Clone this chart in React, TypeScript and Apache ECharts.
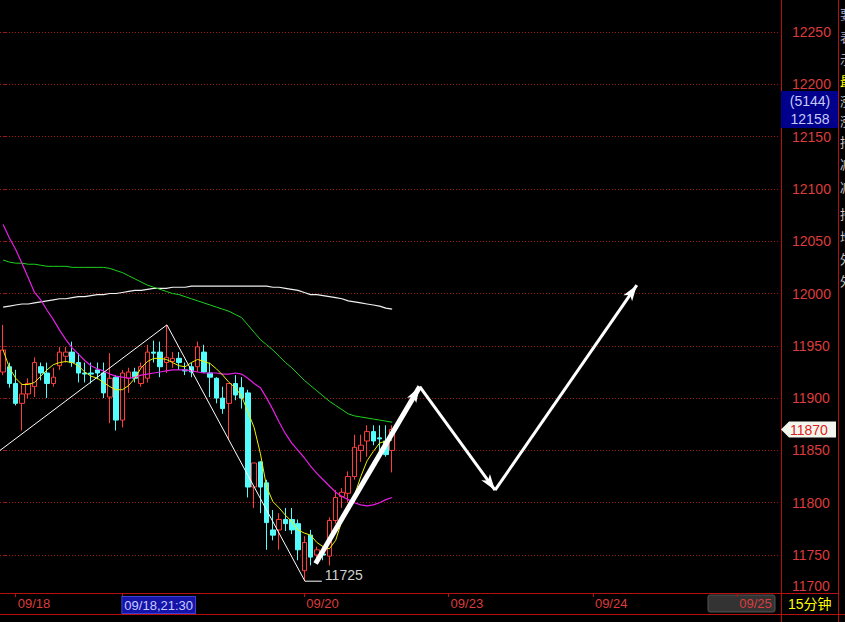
import React, { useEffect, useRef } from 'react';
import * as echarts from 'echarts';

const W = 845;
const H = 622;
const SLOTS = 124;

// [open, close, low, high]
const candles: number[][] = [
  [11925, 11946, 11922, 11970],
  [11930, 11914, 11910, 11934],
  [11914, 11895, 11893, 11927],
  [11895, 11904, 11869, 11914],
  [11904, 11914, 11900, 11919],
  [11911, 11934, 11901, 11939],
  [11930, 11924, 11917, 11934],
  [11924, 11914, 11900, 11934],
  [11914, 11920, 11911, 11929],
  [11931, 11944, 11927, 11949],
  [11940, 11944, 11934, 11949],
  [11944, 11934, 11930, 11954],
  [11934, 11924, 11915, 11943],
  [11924, 11923, 11915, 11934],
  [11924, 11923, 11914, 11934],
  [11927, 11924, 11918, 11934],
  [11924, 11905, 11900, 11934],
  [11901, 11919, 11876, 11943],
  [11920, 11879, 11869, 11922],
  [11879, 11924, 11872, 11927],
  [11919, 11925, 11905, 11929],
  [11925, 11919, 11915, 11929],
  [11914, 11930, 11911, 11934],
  [11919, 11944, 11915, 11951],
  [11944, 11943, 11934, 11955],
  [11944, 11930, 11920, 11954],
  [11934, 11939, 11924, 11970],
  [11935, 11938, 11929, 11944],
  [11938, 11934, 11927, 11944],
  [11927, 11926, 11922, 11934],
  [11930, 11925, 11920, 11934],
  [11930, 11949, 11925, 11954],
  [11944, 11925, 11924, 11951],
  [11924, 11920, 11901, 11934],
  [11919, 11900, 11895, 11920],
  [11900, 11890, 11885, 11911],
  [11895, 11914, 11860, 11914],
  [11914, 11903, 11898, 11922],
  [11910, 11900, 11890, 11920],
  [11905, 11815, 11805, 11908],
  [11815, 11838, 11795, 11838],
  [11839, 11815, 11790, 11840],
  [11819, 11781, 11755, 11822],
  [11774, 11769, 11764, 11793],
  [11774, 11784, 11755, 11790],
  [11784, 11780, 11773, 11795],
  [11784, 11774, 11770, 11795],
  [11780, 11755, 11745, 11784],
  [11735, 11762, 11725, 11768],
  [11769, 11748, 11740, 11774],
  [11750, 11755, 11745, 11758],
  [11751, 11750, 11745, 11754],
  [11749, 11783, 11740, 11786],
  [11783, 11805, 11780, 11812],
  [11806, 11810, 11795, 11814],
  [11809, 11825, 11800, 11830],
  [11825, 11853, 11822, 11865],
  [11850, 11855, 11839, 11865],
  [11859, 11868, 11844, 11874],
  [11868, 11859, 11855, 11874],
  [11862, 11861, 11850, 11874],
  [11859, 11846, 11844, 11874],
  [11850, 11870, 11829, 11874],
];

const maYellow = [
  11946, 11929, 11919, 11913, 11913, 11915, 11921, 11927, 11932, 11934,
  11935, 11934, 11931, 11925, 11921, 11919, 11915, 11911, 11908, 11908,
  11912, 11919, 11929, 11935, 11938, 11938, 11937, 11934, 11931, 11930,
  11934, 11937, 11935, 11933, 11928, 11922, 11915, 11910, 11902, 11887,
  11872, 11847, 11815, 11801, 11795, 11788, 11782, 11774, 11771, 11769,
  11762, 11758, 11756, 11764, 11783, 11798, 11807, 11825, 11840, 11849,
  11857, 11859, 11860,
];

const maMagenta = [
  12066, 12053, 12042, 12029, 12015, 12001, 11994, 11984, 11975, 11965,
  11956, 11948, 11942, 11936, 11931, 11928, 11926, 11923, 11921, 11920,
  11919, 11920, 11922, 11923, 11924, 11925, 11926, 11927, 11927, 11927,
  11926, 11925, 11924, 11924, 11924, 11923, 11923, 11924, 11923, 11919,
  11914, 11910, 11900, 11889, 11877, 11866, 11857, 11850, 11843, 11835,
  11828, 11822, 11816, 11810, 11806, 11803, 11800, 11798, 11797, 11798,
  11800, 11803, 11805,
];

const maGreen = [
  12032, 12030, 12029, 12029, 12028, 12028, 12027, 12026, 12026, 12026,
  12026, 12025, 12025, 12025, 12025, 12025, 12025, 12024, 12022, 12020,
  12017, 12014, 12011, 12008, 12006, 12004, 12002, 12000, 11999, 11997,
  11995, 11993, 11991, 11989, 11987, 11985, 11983, 11980, 11977, 11970,
  11963, 11956, 11951, 11946, 11940, 11934, 11929, 11923, 11917, 11912,
  11907, 11902, 11897, 11893, 11889, 11885, 11883, 11882, 11881, 11880,
  11879, 11878, 11877,
];

const maWhite = [
  11987, 11988, 11989, 11990, 11990, 11991, 11992, 11993, 11994, 11995,
  11995, 11996, 11997, 11997, 11998, 11999, 11999, 12000, 12000, 12001,
  12002, 12003, 12003, 12004, 12005, 12005, 12005, 12006, 12006, 12006,
  12007, 12007, 12007, 12007, 12007, 12007, 12007, 12007, 12007, 12007,
  12007, 12007, 12007, 12006, 12006, 12005, 12004, 12003, 12001, 11999,
  11999, 11998, 11997, 11996, 11995, 11993, 11992, 11991, 11990, 11989,
  11988, 11986, 11985,
];

const yTickValues = [11750, 11800, 11850, 11900, 11950, 12000, 12050, 12100, 12150, 12200, 12250];
const yBottomLabel = '11700';
const yMin = 11713.7;
const yMax = 12280.6;

const xTickIndex = [2, 19, 48, 71, 94, 117];
const xTickLabels = ['09/18', '09/18,21:30', '09/20', '09/23', '09/24', '09/25'];

// hand-drawn trend line (bar index, price)
const trendLine = [[-0.5, 11850], [26.1, 11970], [48.1, 11725], [50.8, 11725]];
// forecast arrows (bar index, price)
const forecastPath = [[49.8, 11742], [66.4, 11911], [78.4, 11812], [101, 12008]];

const lastPrice = 11870;
const crossVol = '(5144)';
const crossPrice = '12158';
const periodLabel = '15分钟';
const sideChars = ['要', '表', '示', '最', '涨', '涨', '持', '减', '减', '持', '增', '外', '外'];

export default function App() {
  const ref = useRef<HTMLDivElement>(null);

  useEffect(() => {
    const el = ref.current;
    if (!el) return;
    const chart = echarts.init(el, null, { renderer: 'svg', width: W, height: H });
    const RED = '#DC3C3C';
    const GRID_RED = '#A01818';
    const LINE_RED = '#B81010';
    const FONT = 'Arial, "Liberation Sans", "Noto Sans CJK SC", sans-serif';
    const cats = Array.from({ length: SLOTS }, (_, i) => String(i));
    const plotRight = 778;
    const plotBottom = 593;

    const segs = forecastPath.slice(1).map((p, k) => [
      { coord: forecastPath[k], lineStyle: { width: k === 0 ? 5 : 3 } },
      { coord: p },
    ]);

    chart.setOption({
      animation: false,
      backgroundColor: '#000000',
      grid: { left: 0, right: W - plotRight, top: 0, bottom: H - plotBottom, containLabel: false },
      xAxis: [
        {
          type: 'category',
          data: cats,
          boundaryGap: true,
          axisLine: { show: true, lineStyle: { color: LINE_RED, width: 1 } },
          axisTick: {
            show: true,
            alignWithLabel: true,
            interval: (i: number) => xTickIndex.includes(i),
            length: 4,
            lineStyle: { color: LINE_RED },
          },
          axisLabel: {
            interval: (i: number) => xTickIndex.includes(i),
            align: 'left',
            margin: 4,
            formatter: (v: string) => {
              const k = xTickIndex.indexOf(Number(v));
              if (k < 0) return '';
              return k === 1 ? `{hl|${xTickLabels[k]}}` : `{n|${xTickLabels[k]}}`;
            },
            rich: {
              n: { color: RED, fontSize: 13, fontFamily: FONT, padding: [0, 0, 0, 2] },
              hl: {
                color: '#C8C8FF',
                backgroundColor: '#1414A8',
                borderColor: '#4040D0',
                borderWidth: 1,
                fontSize: 13,
                fontFamily: FONT,
                padding: [2, 2, 1, 2],
              },
            },
          },
          splitLine: { show: false },
        },
        { type: 'value', min: -0.5, max: SLOTS - 0.5, show: false },
      ],
      yAxis: {
        type: 'value',
        position: 'right',
        min: yMin,
        max: yMax,
        axisLine: { show: false },
        axisTick: { show: true, customValues: yTickValues, length: 4, lineStyle: { color: GRID_RED } },
        axisLabel: {
          customValues: yTickValues,
          formatter: (v: number) => String(Math.round(v)),
          color: RED,
          fontSize: 14,
          fontFamily: FONT,
          margin: 14,
        },
        splitLine: { show: true, lineStyle: { color: GRID_RED, type: [1, 2], width: 1 } },
      },
      series: [
        {
          name: 'K',
          type: 'candlestick',
          data: candles,
          barWidth: 5,
          itemStyle: {
            color: '#000000',
            borderColor: '#FF3C3C',
            color0: '#54FCFC',
            borderColor0: '#54FCFC',
            borderWidth: 1,
          },
        },
        { name: 'MA白', type: 'line', data: maWhite, showSymbol: false, lineStyle: { color: '#F0F0F0', width: 1.2 } },
        { name: 'MA绿', type: 'line', data: maGreen, showSymbol: false, lineStyle: { color: '#1ED21E', width: 1 } },
        { name: 'MA紫', type: 'line', data: maMagenta, showSymbol: false, lineStyle: { color: '#E61EE6', width: 1.2 } },
        { name: 'MA黄', type: 'line', data: maYellow, showSymbol: false, lineStyle: { color: '#F0F000', width: 1 } },
        {
          name: 'draw',
          type: 'line',
          xAxisIndex: 1,
          data: trendLine,
          symbol: 'none',
          lineStyle: { color: '#FFFFFF', width: 1 },
          endLabel: {
            show: true,
            formatter: (p: any) => String(p.value[1]),
            color: '#D0D0D0',
            fontSize: 14,
            fontFamily: FONT,
            offset: [0, -6],
            distance: 3,
          },
          markLine: {
            silent: true,
            symbol: ['none', 'arrow'],
            symbolSize: [8, 16],
            label: { show: false },
            lineStyle: { color: '#FFFFFF', width: 3, type: 'solid' },
            emphasis: { disabled: true },
            data: segs,
          },
        },
      ],
    });

    const yTag = chart.convertToPixel({ yAxisIndex: 0 }, lastPrice) as number;
    const graphics: any[] = [
      { type: 'line', silent: true, shape: { x1: 781.5, y1: 0, x2: 781.5, y2: H }, style: { stroke: LINE_RED, lineWidth: 1 } },
      { type: 'line', silent: true, shape: { x1: 838.5, y1: 0, x2: 838.5, y2: H }, style: { stroke: LINE_RED, lineWidth: 1 } },
      { type: 'line', silent: true, shape: { x1: plotRight, y1: plotBottom + 0.5, x2: 838, y2: plotBottom + 0.5 }, style: { stroke: LINE_RED, lineWidth: 1 } },
      { type: 'line', silent: true, shape: { x1: 0, y1: 614.5, x2: W, y2: 614.5 }, style: { stroke: LINE_RED, lineWidth: 1 } },
      {
        type: 'rect', silent: true, z: -1,
        shape: { x: 708, y: 595, width: 67, height: 17, r: 2 },
        style: { fill: '#333333', stroke: '#555555', lineWidth: 1 },
      },
      {
        type: 'text', silent: true, x: 792, y: 586,
        style: { text: yBottomLabel, fill: RED, fontSize: 14, fontFamily: FONT, textVerticalAlign: 'middle' },
      },
      {
        type: 'text', silent: true, x: 788, y: 604,
        style: { text: periodLabel, fill: '#FFFF00', fontSize: 14, fontFamily: FONT, textVerticalAlign: 'middle' },
      },
      { type: 'rect', silent: true, shape: { x: 781, y: 91, width: 57, height: 37 }, style: { fill: '#00008C' } },
      {
        type: 'text', silent: true, x: 810, y: 101,
        style: { text: crossVol, fill: '#C8C8F8', fontSize: 14, fontFamily: FONT, textAlign: 'center', textVerticalAlign: 'middle' },
      },
      {
        type: 'text', silent: true, x: 810, y: 119,
        style: { text: crossPrice, fill: '#C8C8F8', fontSize: 14, fontFamily: FONT, textAlign: 'center', textVerticalAlign: 'middle' },
      },
      {
        type: 'polygon', silent: true,
        shape: { points: [[781, yTag], [789, yTag - 8], [836, yTag - 8], [836, yTag + 8], [789, yTag + 8]] },
        style: { fill: '#F2F7EE' },
      },
      {
        type: 'text', silent: true, x: 790, y: yTag,
        style: { text: String(lastPrice), fill: '#E02020', fontSize: 14, fontFamily: FONT, textVerticalAlign: 'middle' },
      },
    ];
    const sideY = [13, 36, 58, 80, 100, 120, 141, 163, 186, 213, 236, 258, 280];
    sideChars.forEach((c, k) => {
      graphics.push({
        type: 'text', silent: true, x: 840, y: sideY[k],
        style: {
          text: c,
          fill: k === 3 ? '#FFFF00' : k < 3 ? '#A8A8C8' : '#C8C8C8',
          fontSize: 13,
          fontFamily: '"Noto Sans CJK SC", sans-serif',
          textVerticalAlign: 'middle',
        },
      });
    });
    chart.setOption({ graphic: { elements: graphics } });

    return () => {
      chart.dispose();
    };
  }, []);

  return (
    <div
      ref={ref}
      style={{ position: 'fixed', left: 0, top: 0, width: W, height: H, background: '#000' }}
    />
  );
}
